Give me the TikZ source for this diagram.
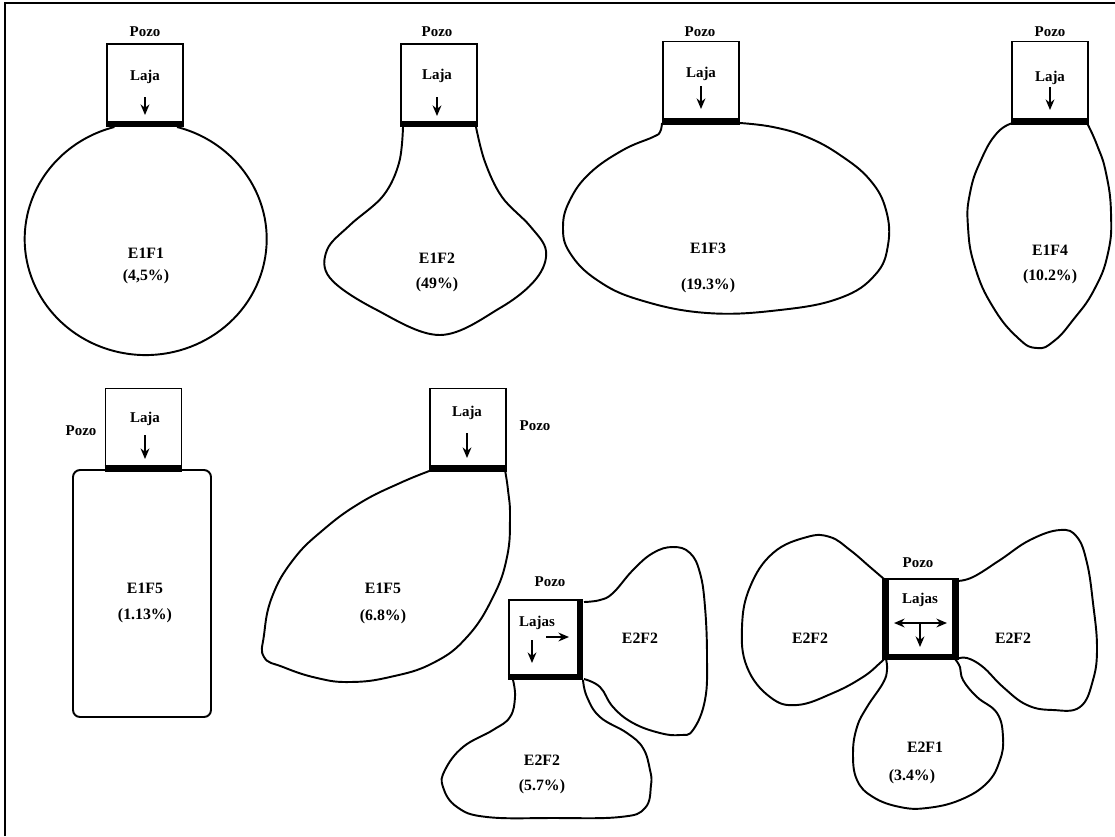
\documentclass[tikz,border=0pt]{standalone}
\usepackage{fontspec}
\setmainfont{Liberation Serif}
\usetikzlibrary{arrows.meta}

\begin{document}
\begin{tikzpicture}[
    x=0.02cm, y=-0.02cm,
    box/.style={rectangle, draw=black, line width=1pt, minimum width=1.52cm, minimum height=1.58cm, inner sep=0pt},
    bar/.style={line width=3.6pt},
    lobe/.style={line width=1.1pt},
    lbl/.style={font=\bfseries\fontsize{8.5}{10}\selectfont, inner sep=1pt},
    tag/.style={font=\bfseries\fontsize{9}{11}\selectfont, inner sep=1pt},
    arr/.style={-{Stealth[length=6pt,width=5pt]}, line width=1.2pt},
    darr/.style={{Stealth[length=6pt,width=5pt]}-{Stealth[length=6pt,width=5pt]}, line width=1.2pt}
]
\useasboundingbox (0,0) rectangle (1115,836);

% frame
\draw[line width=1pt] (5,836) -- (5,3) -- (1115,3);

% --- E1F1 ---
\draw[lobe] (177,127) arc[start angle=-75, end angle=255, x radius=121, y radius=116];
\node[box] (b1) at (145,83.5) {};
\draw[bar] (b1.south west) -- (b1.south east);
\node[lbl] (p1) at (145,32) {Pozo};
\node[lbl] (l1) at (145,77) {Laja};
\draw[arr] (l1.center) ++(0,20) -- ++(0,18);
\node[tag] (t1) at (146,253) {E1F1};
\node[tag] (t1b) at (146,277) {(4,5\%)};

% --- E1F2 ---
\draw[lobe] plot[smooth, tension=0.6] coordinates {(403,127) (399,163) (383,196) (350,225) (327,250) (330,278) (375,309) (440,335) (500,308) (536,279) (546,251) (530,226) (502,197) (485,162) (476,127)};
\node[box] (b2) at (439,83.5) {};
\draw[bar] (b2.south west) -- (b2.south east);
\node[lbl] (p2) at (437,32) {Pozo};
\node[lbl] (l2) at (437,76) {Laja};
\draw[arr] (l2.center) ++(0,21) -- ++(0,19);
\node[tag] (t2) at (437,258) {E1F2};
\node[tag] (t2b) at (437,285) {(49\%)};

% --- E1F3 ---
\draw[lobe] plot[smooth, tension=0.7] coordinates {(662,123) (660,132) (653,137) (623,150) (590,173) (570,200) (563,227) (570,253) (597,280) (640,300) (707,313) (780,310) (840,298) (875,275) (888,245) (886,210) (870,180) (840,155) (807,137) (773,127) (740,123)};
\node[box] (b3) at (701,81) {};
\draw[bar] (b3.south west) -- (b3.south east);
\node[lbl] (p3) at (700,32) {Pozo};
\node[lbl] (l3) at (701,74) {Laja};
\draw[arr] (l3.center) ++(0,12) -- ++(0,23);
\node[tag] (t3) at (708,248) {E1F3};
\node[tag] (t3b) at (708,286) {(19.3\%)};

% --- E1F4 ---
\draw[lobe] plot[smooth, tension=0.8] coordinates {(1013,123) (997,133) (981,160) (970,193) (968,227) (975,267) (993,307) (1018,338) (1037,348) (1054,341) (1073,320) (1094,290) (1108,253) (1111,213) (1106,173) (1097,145) (1087,123)};
\node[box] (b4) at (1050,81) {};
\draw[bar] (b4.south west) -- (b4.south east);
\node[lbl] (p4) at (1050,32) {Pozo};
\node[lbl] (l4) at (1050,78) {Laja};
\draw[arr] (l4.center) ++(0,9) -- ++(0,23);
\node[tag] (t4) at (1050,250) {E1F4};
\node[tag] (t4b) at (1050,277) {(10.2\%)};

% --- E1F5 (1.13%) ---
\draw[lobe, rounded corners=4pt] (73,470) rectangle (211,717);
\node[box] (b5) at (143.5,428) {};
\draw[bar] (b5.south west) -- (b5.south east);
\node[lbl] (p5) at (81,431) {Pozo};
\node[lbl] (l5) at (145,419) {Laja};
\draw[arr] (l5.center) ++(0,16) -- ++(0,24);
\node[tag] (t5) at (145,588) {E1F5};
\node[tag] (t5b) at (145,616) {(1.13\%)};

% --- E1F5 (6.8%) ---
\draw[lobe] plot[smooth, tension=0.75] coordinates {(432,470) (400,483) (360,503) (323,530) (293,560) (272,597) (264,635) (264,657) (283,667) (317,678) (350,682) (390,677) (433,663) (467,637) (493,597) (507,557) (510,517) (508,490) (505,470)};
\node[box] (b6) at (468,428) {};
\draw[bar] (b6.south west) -- (b6.south east);
\node[lbl] (p6) at (535,426) {Pozo};
\node[lbl] (l6) at (467,413) {Laja};
\draw[arr] (l6.center) ++(0,20) -- ++(0,25);
\node[tag] (t6) at (383,588) {E1F5};
\node[tag] (t6b) at (383,617) {(6.8\%)};

% --- E2F2 (5.7%) ---
\draw[lobe] plot[smooth, tension=0.7] coordinates {(584,602) (600,600) (613,593) (633,570) (653,553) (673,547) (690,553) (700,573) (705,607) (707,657) (705,700) (693,730) (680,735) (660,733) (633,723) (613,707) (600,687) (584,679)};
\draw[lobe] plot[smooth, tension=0.7] coordinates {(513,680) (515,697) (510,717) (493,730) (463,747) (445,770) (443,787) (457,807) (487,817) (553,818) (620,817) (645,808) (651,785) (650,770) (643,748) (627,733) (600,717) (587,697) (583,680)};
\node[box, minimum width=1.41cm, minimum height=1.53cm] (b7) at (544,638) {};
\draw[bar] (b7.south west) -- (b7.south east) -- (b7.north east);
\node[lbl] (p7) at (550,582) {Pozo};
\node[lbl] (l7) at (537,623) {Lajas};
\draw[arr] (l7.center) ++(9,14) -- ++(23,0);
\draw[arr] (l7.center) ++(-5,17) -- ++(0,23);
\node[tag] (t7) at (640,638) {E2F2};
\node[tag] (t8) at (542,760) {E2F2};
\node[tag] (t8b) at (542,787) {(5.7\%)};

% --- E2F1 (3.4%) ---
\draw[lobe] plot[smooth, tension=0.7] coordinates {(884,579) (870,567) (850,550) (830,537) (807,537) (773,553) (750,587) (742,627) (747,667) (770,697) (797,705) (833,693) (863,677) (880,663) (884,659)};
\draw[lobe] plot[smooth, tension=0.7] coordinates {(957,581) (973,577) (1000,560) (1030,540) (1060,530) (1077,537) (1087,563) (1093,603) (1097,647) (1093,680) (1080,707) (1053,710) (1027,705) (1003,687) (983,667) (967,658) (957,659)};
\draw[lobe] plot[smooth, tension=0.7] coordinates {(886,659) (887,670) (883,683) (867,707) (857,727) (853,753) (857,780) (873,797) (900,807) (927,808) (960,800) (987,783) (1000,760) (1003,737) (997,713) (977,697) (963,680) (960,667) (955,659)};
\node[box, minimum width=1.36cm, minimum height=1.54cm] (b8) at (920.5,617.5) {};
\draw[bar] (b8.north west) -- (b8.south west) -- (b8.south east) -- (b8.north east);
\node[lbl] (p8) at (918,563) {Pozo};
\node[lbl] (l8) at (920,600) {Lajas};
\draw[darr] (l8.center) ++(-26,23) -- ++(53,0);
\draw[arr] (l8.center) ++(0,23) -- ++(0,24);
\node[tag] (t9) at (810,638) {E2F2};
\node[tag] (t10) at (1013,638) {E2F2};
\node[tag] (t11) at (925,747) {E2F1};
\node[tag] (t11b) at (912,777) {(3.4\%)};

\end{tikzpicture}
\end{document}
